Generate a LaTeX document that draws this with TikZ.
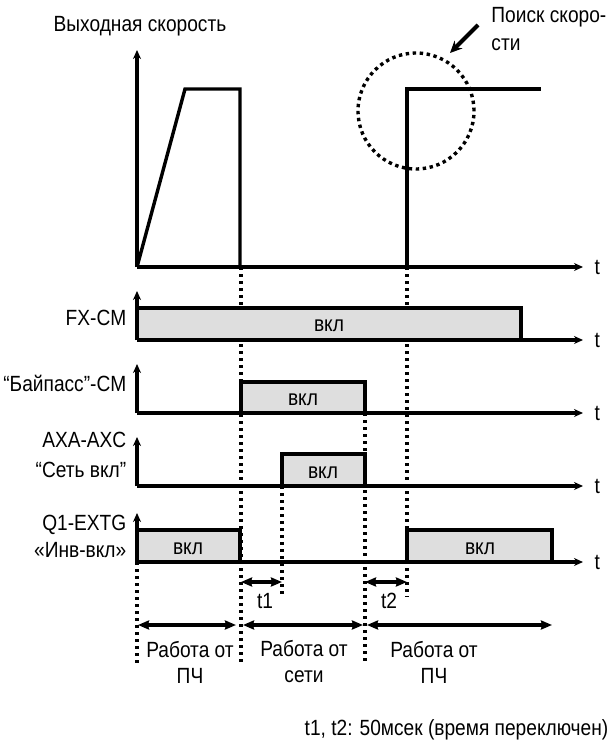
\documentclass[tikz,border=0pt]{standalone}
\usepackage{fontspec}
\setmainfont{Liberation Sans}[FakeStretch=0.87]
\usetikzlibrary{arrows.meta}

\begin{document}
\begin{tikzpicture}[
  x=1pt, y=-1pt,
  line width=3.4pt,
  lbl/.style={font=\fontsize{22}{26}\selectfont, inner sep=0pt},
  sig/.style={lbl, anchor=east},
  bar/.style={draw, fill=black!13, line join=miter},
  axis/.style={-{Stealth[length=9pt,width=8pt]}},
  guide/.style={dash pattern=on 3.4pt off 3.6pt},
  span/.style={{Stealth[length=11pt,width=9pt,inset=1pt]}-{Stealth[length=11pt,width=9pt,inset=1pt]}},
]
  \useasboundingbox (0,0) rectangle (611,744);

  % Выходная скорость
  \node[lbl] (vtitle) at (140,26) {Выходная скорость};
  \draw[axis] (137,267) -- (137,50);
  \draw[axis] (137,267) -- (583,267) node[lbl, right=10pt] (tv) {t};
  \draw[line join=miter] (137,267) -- (185,89) -- (240,89) -- (240,267);
  \draw[line join=miter] (407,267) -- (407,89) -- (541,89);

  % Поиск скорости
  \draw[guide] (416,111) circle[radius=58pt];
  \node[lbl, font=\fontsize{22}{28}\selectfont, align=left, anchor=north east]
    (search) at (608,6) {Поиск скоро-\\сти};
  \coordinate (sfrom) at (478,25);
  \coordinate (sto) at (450,53);
  \draw[-{Stealth[length=12pt,width=11pt]}, line width=4pt] (sfrom) -- (sto);

  % Пунктирные отметки
  \draw[guide] (137,562) -- (137,665);
  \draw[guide] (241,267) -- (241,665);
  \draw[guide] (407,267) -- (407,597);
  \draw[guide] (282,486) -- (282,597);
  \draw[guide] (365,413) -- (365,662);

  % Сигналы
  \draw[bar] (137,340) |- (521,308) -- (521,340);
  \node[lbl] (fxon) at (329,326) {вкл};
  \draw[bar] (241,413) |- (365,382) -- (365,413);
  \node[lbl] (byon) at (303,400) {вкл};
  \draw[bar] (282,486) |- (365,454) -- (365,486);
  \node[lbl] (axon) at (323,473) {вкл};
  \draw[bar] (137,562) |- (240,530) -- (240,562);
  \node[lbl] (qona) at (188,549) {вкл};
  \draw[bar] (407,562) |- (552,530) -- (552,562);
  \node[lbl] (qonb) at (480,549) {вкл};

  \foreach \y in {340, 413, 486, 562} {
    \draw[axis] (137,\y) -- (137,\y-49);
    \draw[axis] (137,\y) -- (583,\y) node[lbl, right=10pt] {t};
  }

  \node[sig] (fx) at (128,318) {FX-CM};
  \node[sig] (bypass) at (128,383) {“Байпасс”-CM};
  \node[sig] (axa) at (128,440) {AXA-AXC};
  \node[sig] (net) at (128,470) {“Сеть вкл”};
  \node[sig] (q1) at (128,525) {Q1-EXTG};
  \node[sig] (inv) at (128,550) {«Инв-вкл»};

  % Время переключения
  \coordinate (a1) at (241,582);
  \coordinate (b1) at (282,582);
  \coordinate (a2) at (365,582);
  \coordinate (b2) at (407,582);
  \draw[span] (a1) -- (b1);
  \draw[span] (a2) -- (b2);
  \node[lbl] (t1) at (265,601) {t1};
  \node[lbl] (t2) at (389,601) {t2};

  % Режимы работы
  \coordinate (p0) at (137,625);
  \coordinate (p1) at (241,625);
  \coordinate (p2) at (365,625);
  \coordinate (p3) at (552,625);
  \draw[span, shorten <=1pt, shorten >=5pt] (p0) -- (p1);
  \draw[span, shorten <=2pt, shorten >=2pt] (p1) -- (p2);
  \draw[span, shorten <=2pt] (p2) -- (p3);
  \node[lbl, align=center, font=\fontsize{22}{26}\selectfont] (wpch) at (190,662) {Работа от\\ПЧ};
  \node[lbl, align=center, font=\fontsize{22}{26}\selectfont] (wnet) at (304,662) {Работа от\\сети};
  \node[lbl, align=center, font=\fontsize{22}{26}\selectfont] (wpch2) at (434,662) {Работа от\\ПЧ};

  \node[lbl, anchor=west] (note) at (303,730) {t1, t2: 50мсек (время переключен)};
\end{tikzpicture}
\end{document}
